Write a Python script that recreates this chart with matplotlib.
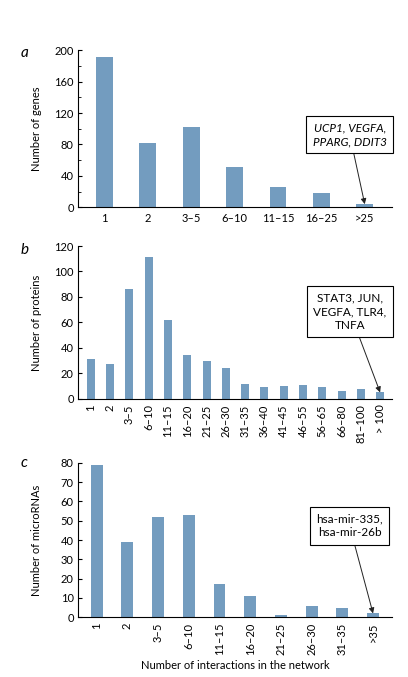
import matplotlib
matplotlib.use("Agg")
import matplotlib.pyplot as plt
from matplotlib.ticker import MultipleLocator

plt.rcParams['font.family'] = ['Lato', 'DejaVu Sans']

# panel a: genes
genes_cats = ["1", "2", "3\u20135", "6\u201310", "11\u201315", "16\u201325", ">25"]
genes_vals = [191, 82, 102, 51, 26, 18, 4]

# panel b: proteins
prot_cats = ["1", "2", "3\u20135", "6\u201310", "11\u201315", "16\u201320", "21\u201325",
             "26\u201330", "31\u201335", "36\u201340", "41\u201345", "46\u201355",
             "56\u201365", "66\u201380", "81\u2013100", "> 100"]
prot_vals = [31, 27, 86, 111, 62, 34, 30, 24, 11.5, 9, 10, 10.5, 9, 6, 7.5, 5]

# panel c: microRNAs
mir_cats = ["1", "2", "3\u20135", "6\u201310", "11\u201315", "16\u201320", "21\u201325",
            "26\u201330", "31\u201335", ">35"]
mir_vals = [79, 39, 52, 53, 17, 11, 1, 6, 5, 2]

bar_color = "#739cbf"
fs = 8

fig = plt.figure(figsize=(4.08, 6.77), dpi=100)

def panel(rect, cats, vals, width, xlim, ylim, ystep, minor, ylabel, rot,
          note, note_xy, italic):
    ax = fig.add_axes(rect)
    x = range(len(cats))
    ax.bar(x, vals, width=width, color=bar_color)
    ax.set_xlim(*xlim)
    ax.set_ylim(*ylim)
    ax.spines['top'].set_visible(False)
    ax.spines['right'].set_visible(False)
    ax.spines['left'].set_linewidth(0.8)
    ax.spines['bottom'].set_linewidth(0.8)
    ax.set_xticks(list(x))
    ax.set_xticklabels(cats, rotation=rot, fontsize=fs)
    ax.tick_params(axis='x', length=0, pad=4)
    ax.yaxis.set_major_locator(MultipleLocator(ystep))
    if minor:
        ax.yaxis.set_minor_locator(MultipleLocator(minor))
    ax.tick_params(axis='y', which='both', direction='in', labelsize=fs, pad=3)
    ax.tick_params(axis='y', which='major', length=3, width=0.8)
    ax.tick_params(axis='y', which='minor', length=2, width=0.6)
    ax.set_ylabel(ylabel, fontsize=fs)
    ax.yaxis.set_label_coords(-0.115, 0.5)
    ax.annotate(note, xy=(len(cats) - 1, vals[-1]), xycoords='data',
                xytext=note_xy, textcoords='axes fraction',
                ha='center', va='center', fontsize=fs + 0.5,
                style='italic' if italic else 'normal', linespacing=1.3,
                bbox=dict(boxstyle='square,pad=0.55', fc='white', ec='black', lw=0.8),
                arrowprops=dict(arrowstyle='-|>', color='#222222', lw=0.7,
                                mutation_scale=8, shrinkA=0, shrinkB=0))
    return ax

panel([0.191, 0.6938, 0.770, 0.232], genes_cats, genes_vals, 0.39,
      (-0.61, 6.63), (0, 200), 40, 20, "Number of genes", 0,
      "UCP1, VEGFA,\nPPARG, DDIT3", (0.865, 0.463), True)

panel([0.191, 0.411, 0.770, 0.2256], prot_cats, prot_vals, 0.42,
      (-0.67, 15.62), (0, 120), 20, None, "Number of proteins", 90,
      "STAT3, JUN,\nVEGFA, TLR4,\nTNFA", (0.865, 0.571), False)

axc = panel([0.191, 0.0882, 0.770, 0.2283], mir_cats, mir_vals, 0.39,
            (-0.61, 9.62), (0, 80), 10, None, "Number of microRNAs", 90,
            "hsa-mir-335,\nhsa-mir-26b", (0.865, 0.59), False)
axc.set_xlabel("Number of interactions in the network", fontsize=fs, labelpad=3)

fig.text(0.06, 0.922, "a", fontsize=11, style='italic', ha='center', va='center')
fig.text(0.06, 0.631, "b", fontsize=11, style='italic', ha='center', va='center')
fig.text(0.06, 0.316, "c", fontsize=11, style='italic', ha='center', va='center')

fig.savefig("out.png", dpi=100)
